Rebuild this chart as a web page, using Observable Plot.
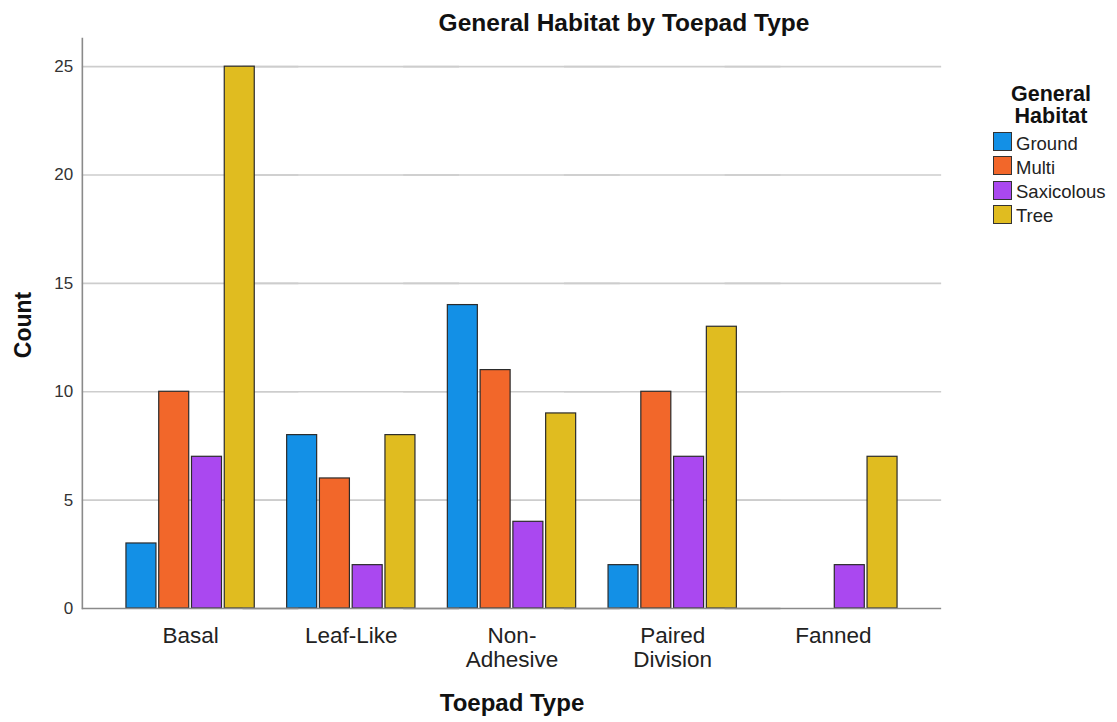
<!DOCTYPE html>
<html>
<head>
<meta charset="utf-8">
<script src="https://cdn.jsdelivr.net/npm/d3@7"></script>
<script src="https://cdn.jsdelivr.net/npm/@observablehq/plot@0.6"></script>
<style>
  html, body { margin: 0; padding: 0; background: #fff; }
  #wrap { position: relative; width: 1117px; height: 722px; font-family: "Liberation Sans", Arial, sans-serif; color: #222; }
  #wrap svg { position: absolute; left: 0; top: 0; }
  .abs { position: absolute; white-space: nowrap; line-height: 1; }
  .title { font-weight: bold; font-size: 24.5px; left: 624px; top: 10.5px; transform: translateX(-50%); color: #111; }
  .xlab { font-weight: bold; font-size: 24px; left: 512px; top: 690.5px; transform: translateX(-50%); color: #111; }
  .ylab { font-weight: bold; font-size: 23px; left: 23px; top: 325px; transform: translate(-50%, -50%) rotate(-90deg); color: #111; }
  .legtitle { font-weight: bold; font-size: 21.5px; left: 1051px; transform: translateX(-50%); color: #111; }
  .legend { position: absolute; left: 993px; top: 131.5px; }
  .row { display: flex; align-items: flex-start; height: 24.3px; }
  .sw { width: 19px; height: 19px; box-sizing: border-box; border: 1.5px solid #333; margin-top: 0.5px; }
  .lt { font-size: 18.5px; line-height: 24.3px; margin-left: 4px; color: #222; }
</style>
</head>
<body>
<div id="wrap"></div>
<script>
// ---- data ----
const toepadTypes = ["Basal", "Leaf-Like", "Non-Adhesive", "Paired Division", "Fanned"];
const toepadLabels = ["Basal", "Leaf-Like", "Non-\nAdhesive", "Paired\nDivision", "Fanned"];
const habitats = ["Ground", "Multi", "Saxicolous", "Tree"];
const groundCounts = [3, 8, 14, 2, 0];
const multiCounts = [10, 6, 11, 10, 0];
const saxicolousCounts = [7, 2, 4, 7, 2];
const treeCounts = [25, 8, 9, 13, 7];
const habitatColors = ["#1390e6", "#f2672a", "#aa48f0", "#e0bc20"];
const yTicks = [0, 5, 10, 15, 20, 25];

const seriesByHabitat = [groundCounts, multiCounts, saxicolousCounts, treeCounts];
const rows = [];
toepadTypes.forEach((t, i) => {
  habitats.forEach((h, j) => {
    const c = seriesByHabitat[j][i];
    if (c > 0) rows.push({type: t, habitat: h, count: c});
  });
});
const labelOf = new Map(toepadTypes.map((t, i) => [t, toepadLabels[i]]));

const ext = -27.9; // extend lines over outer facet padding

const chart = Plot.plot({
  width: 1117,
  height: 722,
  marginLeft: 82,
  marginRight: 176,
  marginTop: 38,
  marginBottom: 114,
  style: {fontFamily: "'Liberation Sans', Arial, sans-serif", background: "transparent"},
  fx: {domain: toepadTypes, paddingInner: 0, paddingOuter: 0.1727, round: false, axis: null, label: null},
  x: {domain: habitats, paddingInner: 0.0845, paddingOuter: 0.4943, round: false, axis: null},
  y: {domain: [0, 26.3], axis: null},
  color: {domain: habitats, range: habitatColors},
  marks: [
    Plot.ruleY(yTicks.filter(d => d > 0), {stroke: "#cdcdcd", strokeWidth: 1.6, insetLeft: ext, insetRight: ext}),
    Plot.barY(rows, {fx: "type", x: "habitat", y: "count", fill: "habitat", stroke: "#2b2b2b", strokeWidth: 1.2}),
    Plot.ruleY([0], {stroke: "#8a8a8a", strokeWidth: 1.6, insetLeft: ext, insetRight: ext}),
    Plot.frame({anchor: "left", facetAnchor: "left", insetLeft: ext, stroke: "#8a8a8a", strokeWidth: 1.6}),
    Plot.axisY({ticks: yTicks, tickSize: 0, tickPadding: 37, fontSize: 17, fill: "#333", label: null}),
    Plot.axisFx({anchor: "bottom", tickSize: 0, tickPadding: 18, fontSize: 22.5, lineHeight: 1.06, fill: "#222", label: null, tickFormat: d => labelOf.get(d)})
  ]
});

const wrap = document.getElementById("wrap");
wrap.appendChild(chart);

function addDiv(cls, html, style) {
  const d = document.createElement("div");
  d.className = cls;
  d.innerHTML = html;
  if (style) d.setAttribute("style", style);
  wrap.appendChild(d);
  return d;
}
addDiv("abs title", "General Habitat by Toepad Type");
addDiv("abs xlab", "Toepad Type");
addDiv("abs ylab", "Count");
addDiv("abs legtitle", "General", "top: 83.8px");
addDiv("abs legtitle", "Habitat", "top: 105.8px");
const leg = addDiv("legend", "");
habitats.forEach((h, i) => {
  const r = document.createElement("div");
  r.className = "row";
  r.innerHTML = `<div class="sw" style="background:${habitatColors[i]}"></div><div class="lt">${h}</div>`;
  leg.appendChild(r);
});
</script>
</body>
</html>
